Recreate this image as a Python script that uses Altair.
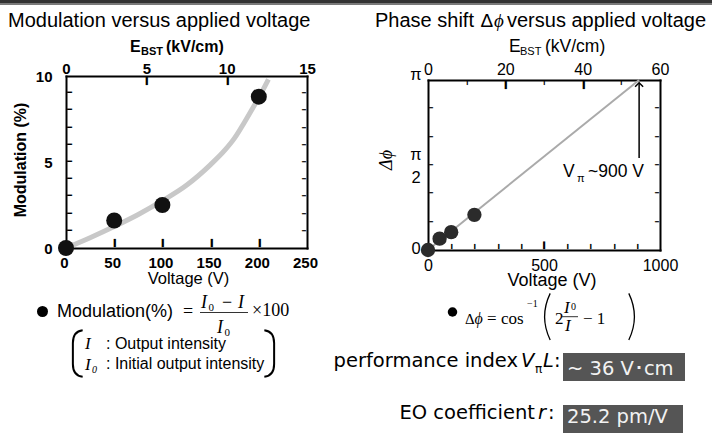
import altair as alt
import pandas as pd
import numpy as np

# ---------------- data ----------------
# Left panel: modulation vs voltage
VOLT_L = [0, 50, 100, 200]
MOD_L = [0.0, 1.6, 2.5, 8.8]
CURVE_V = [0, 25, 50, 75, 100, 125, 150, 165, 175, 185, 195, 203, 210]
CURVE_M = [0.0, 0.6, 1.25, 1.95, 2.75, 3.65, 4.85, 5.7, 6.4, 7.3, 8.25, 9.05, 9.8]

# Right panel: phase shift (rad) vs voltage
VOLT_R = [0, 50, 100, 200]
DPHI_R = [0.0, 0.21, 0.33, 0.65]
FIT_V = [0, 910]
FIT_PHI = [0.0, 3.1416]
VPI_V = [910]
ARROW_FROM = [1.70]
ARROW_TO = [3.09]

# tick / label values
L_BOTTOM_LABELS = [0, 50, 100, 150, 200, 250]
L_LEFT_LABELS = [0, 5, 10]
L_TOP_LABELS = [0, 5, 10, 15]
L_SIDE_TICKS = [1, 2, 3, 4, 5, 6, 7, 8, 9]
L_BOTTOM_TICKS = [50, 100, 150, 200]
L_TOP_TICKS = [5, 10]

R_BOTTOM_LABELS = [0, 500, 1000]
R_TOP_LABELS = [0, 20, 40, 60]
R_SIDE_TICKS = [0.5236, 1.0472, 1.5708, 2.0944, 2.618]
R_BOTTOM_MINOR = [100, 200, 300, 400, 600, 700, 800, 900]
R_BOTTOM_MAJOR = [500]
R_TOP_MINOR = [10, 30, 50]
R_TOP_MAJOR = [20, 40]
# y labels of right panel: value (rad), text, vertical nudge
R_LEFT_LABELS = [(0.0, "0", -1), (1.5708, "π", -10), (1.5708, "2", 13), (3.1416, "π", -5)]

W, H = 712, 433
SANS = "Liberation Sans"
SERIF = "Liberation Serif"
WIDE = "DejaVu Sans"
MONO = "DejaVu Sans Mono"

LX = alt.Scale(domain=[0, 250], range=[66, 307], nice=False, zero=False)
LY = alt.Scale(domain=[0, 10], range=[248, 76], nice=False, zero=False)
LXT = alt.Scale(domain=[0, 15], range=[66, 307], nice=False, zero=False)
RX = alt.Scale(domain=[0, 1000], range=[428, 660], nice=False, zero=False)
RY = alt.Scale(domain=[0, 3.1416], range=[250, 80], nice=False, zero=False)
RXT = alt.Scale(domain=[0, 60], range=[428, 660], nice=False, zero=False)


def ax_layer(ch, vals, scale, **axkw):
    df = pd.DataFrame({"v": vals})
    ax = alt.Axis(values=list(vals), title=None, grid=False, labelFlush=False,
                  labelOverlap=False, **axkw)
    if ch == "x":
        enc = dict(x=alt.X("v:Q", scale=scale, axis=ax), y=alt.value(-50))
    else:
        enc = dict(y=alt.Y("v:Q", scale=scale, axis=ax), x=alt.value(-50))
    return alt.Chart(df).mark_point(opacity=0).encode(**enc)


def lab(**kw):
    d = dict(domain=True, domainColor="#000", domainWidth=2, domainCap="square",
             ticks=False, tickSize=0, labels=True, labelColor="#000")
    d.update(kw)
    return d


FRAME = dict(domain=True, domainColor="#000", domainWidth=2, domainCap="square",
             ticks=False, labels=False)


def tick_glyphs(ch, vals, scale, a, b):
    """Inward tick marks drawn as a box-drawing line glyph: position along the axis from
    the scale, centred between pixels a..b across it (glyph length = its advance)."""
    c, n = (a + b) / 2.0, float(b - a)
    df = pd.DataFrame({"v": vals, "t": ["━"] * len(vals)})
    if ch == "x":
        return alt.Chart(df).mark_text(font=MONO, fontSize=n / 0.602, align="center",
                                       baseline="middle", color="#000", angle=90).encode(
            x=alt.X("v:Q", scale=scale, axis=None), y=alt.value(c), text="t:N")
    return alt.Chart(df).mark_text(font=MONO, fontSize=n / 0.602, align="center",
                                   baseline="middle", color="#000").encode(
        y=alt.Y("v:Q", scale=scale, axis=None), x=alt.value(c), text="t:N")


def text_layer(rows, **mk):
    df = pd.DataFrame(rows, columns=["x", "y", "t"])
    base = dict(font=SANS, fontSize=16, align="left", baseline="alphabetic", color="#000")
    base.update(mk)
    return alt.Chart(df).mark_text(**base).encode(
        x=alt.X("x:Q", scale=None, axis=None),
        y=alt.Y("y:Q", scale=None, axis=None),
        text="t:N")


def rect(x1, x2, y1, y2, color):
    return alt.Chart(pd.DataFrame({"a": [0]})).mark_rect(color=color).encode(
        x=alt.value(x1), x2=alt.value(x2), y=alt.value(y1), y2=alt.value(y2))


def hrule(x1, x2, y, color="#333", w=1):
    return alt.Chart(pd.DataFrame({"a": [0]})).mark_rule(color=color, strokeWidth=w).encode(
        x=alt.value(x1), x2=alt.value(x2), y=alt.value(y))


def shape_layer(rows, shape, size, filled, color="#000", sw=1.5):
    df = pd.DataFrame(rows, columns=["x", "y"])
    if filled:
        m = alt.Chart(df).mark_point(shape=shape, size=size, filled=True, color=color,
                                     opacity=1, strokeWidth=0)
    else:
        m = alt.Chart(df).mark_point(shape=shape, size=size, filled=False, color=color,
                                     opacity=1, strokeWidth=sw)
    return m.encode(x=alt.X("x:Q", scale=None, axis=None), y=alt.Y("y:Q", scale=None, axis=None))


layers = []

# top decorative bar and value boxes
layers += [rect(0, W, 0, 3, "#333333"), rect(0, W, 3, 5, "#7a7a7a"),
           rect(563, 685, 353, 381, "#555555"), rect(563, 683, 405, 433, "#555555")]

# ---------- axes (labels + frame) ----------
LF = dict(labelFont=SANS, labelFontSize=15, labelFontWeight="bold")
RF = dict(labelFont=SANS, labelFontSize=16, labelFontWeight="normal")
layers += [
    ax_layer("x", L_BOTTOM_LABELS, LX, orient="bottom", offset=-185,
             **lab(labelPadding=7.5, labelOffset=-2, **LF)),
    ax_layer("y", L_LEFT_LABELS, LY, orient="left", offset=-66, **lab(labelPadding=14, **LF)),
    ax_layer("x", L_TOP_LABELS, LXT, orient="top", offset=-76, **lab(labelPadding=0, **LF)),
    ax_layer("y", [0, 10], LY, orient="right", offset=-405, **FRAME),
    ax_layer("x", R_BOTTOM_LABELS, RX, orient="bottom", offset=-183,
             **lab(labelPadding=7, format="d", **RF)),
    ax_layer("y", [0, 3.1416], RY, orient="left", offset=-428, **FRAME),
    ax_layer("x", R_TOP_LABELS, RXT, orient="top", offset=-80, **lab(labelPadding=3, **RF)),
    ax_layer("y", [0, 3.1416], RY, orient="right", offset=-52, **FRAME),
]
for val, lbl, dy in R_LEFT_LABELS:
    layers.append(
        alt.Chart(pd.DataFrame({"v": [val], "t": [lbl]})).mark_text(
            font=SANS, fontSize=16.5, align="center", baseline="middle", color="#000", dy=dy
        ).encode(x=alt.value(416), y=alt.Y("v:Q", scale=RY, axis=None), text="t:N"))

# ---------- inward tick marks ----------
TICK_SPECS = [
    ("y", L_SIDE_TICKS, LY, 67, 72), ("y", L_SIDE_TICKS, LY, 302, 306),
    ("x", L_BOTTOM_TICKS, LX, 239, 247), ("x", L_TOP_TICKS, LXT, 77, 85),
    ("y", R_SIDE_TICKS, RY, 429, 433), ("y", R_SIDE_TICKS, RY, 655, 659),
    ("x", R_BOTTOM_MINOR, RX, 244, 249), ("x", R_BOTTOM_MAJOR, RX, 241.5, 249),
    ("x", R_TOP_MINOR, RXT, 81, 85), ("x", R_TOP_MAJOR, RXT, 81, 89),
]
for spec in TICK_SPECS:
    layers.append(tick_glyphs(*spec))

# ---------- data marks ----------
curve = alt.Chart(pd.DataFrame({"v": CURVE_V, "m": CURVE_M})).mark_line(
    color="#c8c8c8", strokeWidth=5, interpolate="monotone").encode(
    x=alt.X("v:Q", scale=LX, axis=None), y=alt.Y("m:Q", scale=LY, axis=None))
pts_l = alt.Chart(pd.DataFrame({"v": VOLT_L, "m": MOD_L})).mark_circle(
    color="#111111", size=256, opacity=1).encode(
    x=alt.X("v:Q", scale=LX, axis=None), y=alt.Y("m:Q", scale=LY, axis=None))
fit = alt.Chart(pd.DataFrame({"v": FIT_V, "p": FIT_PHI})).mark_line(
    color="#aaaaaa", strokeWidth=2).encode(
    x=alt.X("v:Q", scale=RX, axis=None), y=alt.Y("p:Q", scale=RY, axis=None))
pts_r = alt.Chart(pd.DataFrame({"v": VOLT_R, "p": DPHI_R})).mark_circle(
    color="#2b2b2b", size=205, opacity=1).encode(
    x=alt.X("v:Q", scale=RX, axis=None), y=alt.Y("p:Q", scale=RY, axis=None))
adf = pd.DataFrame({"v": VPI_V, "p0": ARROW_FROM, "p1": ARROW_TO})
arrow = alt.Chart(adf).mark_rule(color="#000", strokeWidth=1.5).encode(
    x=alt.X("v:Q", scale=RX, axis=None), y=alt.Y("p0:Q", scale=RY, axis=None), y2="p1:Q")
head = alt.Chart(adf).mark_point(shape="M-1,1L0,0L1,1", filled=False, size=64, color="#000",
                                 strokeWidth=1.5, opacity=1).encode(
    x=alt.X("v:Q", scale=RX, axis=None), y=alt.Y("p1:Q", scale=RY, axis=None))
layers += [curve, pts_l, fit, pts_r, arrow, head]

# ---------- texts ----------
layers += [
    text_layer([(8, 27, "Modulation versus applied voltage"),
                (375, 27, "Phase shift"),
                (507, 27, "versus applied voltage")], fontSize=20),
    text_layer([(480.5, 27, "Δ")], fontSize=19),
    text_layer([(494, 27, "ϕ")], font=SERIF, fontSize=19, fontStyle="italic"),
    text_layer([(130, 52, "E"), (166, 52, "(kV/cm)")], fontSize=16, fontWeight="bold"),
    text_layer([(141, 55, "BST")], fontSize=11, fontWeight="bold"),
    text_layer([(509, 52, "E"), (545, 52, "(kV/cm)")], fontSize=17.5),
    text_layer([(520, 55, "BST")], fontSize=11),
    text_layer([(188.5, 284, "Voltage (V)")], fontSize=16.5, align="center"),
    text_layer([(552, 285.5, "Voltage (V)")], fontSize=18, align="center"),
    text_layer([(21, 160, "Modulation (%)")], fontSize=16, fontWeight="bold", align="center",
               baseline="middle", angle=270),
    text_layer([(387, 160, "Δϕ")], font=SERIF, fontSize=18, fontStyle="italic", align="center",
               baseline="middle", angle=270),
    text_layer([(563, 177, "V"), (588, 177, "~900 V")], fontSize=17.5),
    text_layer([(577, 182, "π")], fontSize=11),
]

# left formula block
layers += [
    shape_layer([(42.5, 311.5)], "circle", 121, True),
    text_layer([(57, 317, "Modulation(%)")], fontSize=18),
    text_layer([(183, 317, "="), (222, 308, "−"), (252, 316, "×100")], font=SERIF, fontSize=18),
    text_layer([(201, 308, "I"), (238, 308, "I"), (217, 333, "I")], font=SERIF, fontSize=18,
               fontStyle="italic"),
    text_layer([(208.5, 311, "0"), (224.5, 336, "0")], font=SERIF, fontSize=11),
    hrule(200, 248, 312.5),
    shape_layer([(78, 353.5)], "M0.2,-1 C-0.22,-0.95 -0.22,-0.6 -0.22,-0.45 L-0.22,0.45 "
                "C-0.22,0.6 -0.22,0.95 0.2,1", 2172, False, sw=2),
    shape_layer([(269, 353.5)], "M-0.2,-1 C0.22,-0.95 0.22,-0.6 0.22,-0.45 L0.22,0.45 "
                "C0.22,0.6 0.22,0.95 -0.2,1", 2172, False, sw=2),
    text_layer([(85, 349, "I"), (85, 370, "I")], font=SERIF, fontSize=17, fontStyle="italic"),
    text_layer([(92, 373, "0")], font=SERIF, fontSize=10, fontStyle="italic"),
    text_layer([(106, 349, ": Output intensity"), (106, 369, ": Initial output intensity")],
               fontSize=16),
]

# right formula block
layers += [
    shape_layer([(452.5, 312)], "circle", 90, True),
    text_layer([(465, 324, "Δ")], font=SERIF, fontSize=15),
    text_layer([(474.5, 324, "ϕ")], font=SERIF, fontSize=16, fontStyle="italic"),
    text_layer([(487, 324, "="), (501, 324, "cos"), (555, 324, "2"),
                (583, 324, "− 1")], font=SERIF, fontSize=17),
    text_layer([(564, 313, "I"), (565, 331, "I")], font=SERIF, fontSize=17, fontStyle="italic"),
    text_layer([(527, 307, "−1"), (571, 310, "0")], font=SERIF, fontSize=10),
    hrule(562, 578, 316.7),
    shape_layer([(546, 316.7)], "M0.18,-1 Q-0.3,0 0.18,1", 2172, False, sw=1.3),
    shape_layer([(633, 316.7)], "M-0.18,-1 Q0.3,0 -0.18,1", 2172, False, sw=1.3),
]

# performance texts
layers += [
    text_layer([(518, 367, "performance index"), (535, 419, "EO coefficient")], font=WIDE,
               fontSize=19.5, align="right"),
    text_layer([(521, 367, "V"), (543, 367, "L"), (538, 419, "r")], font=WIDE, fontSize=19.5,
               fontStyle="italic"),
    text_layer([(554, 367, ":"), (548, 419, ":")], font=WIDE, fontSize=19.5),
    text_layer([(535, 373, "π")], font=WIDE, fontSize=12),
    text_layer([(567, 375, "~ 36 V･cm"), (567, 423, "25.2 pm/V")], font=WIDE, fontSize=19.5,
               color="#f2f2f2"),
]

chart = alt.layer(*layers).resolve_scale(x="independent", y="independent").properties(
    width=W, height=H, autosize=alt.AutoSizeParams(type="none"), padding=0,
    background="white").configure_view(stroke=None)

chart.save("out.html", embed_options={"renderer": "svg", "actions": False})
